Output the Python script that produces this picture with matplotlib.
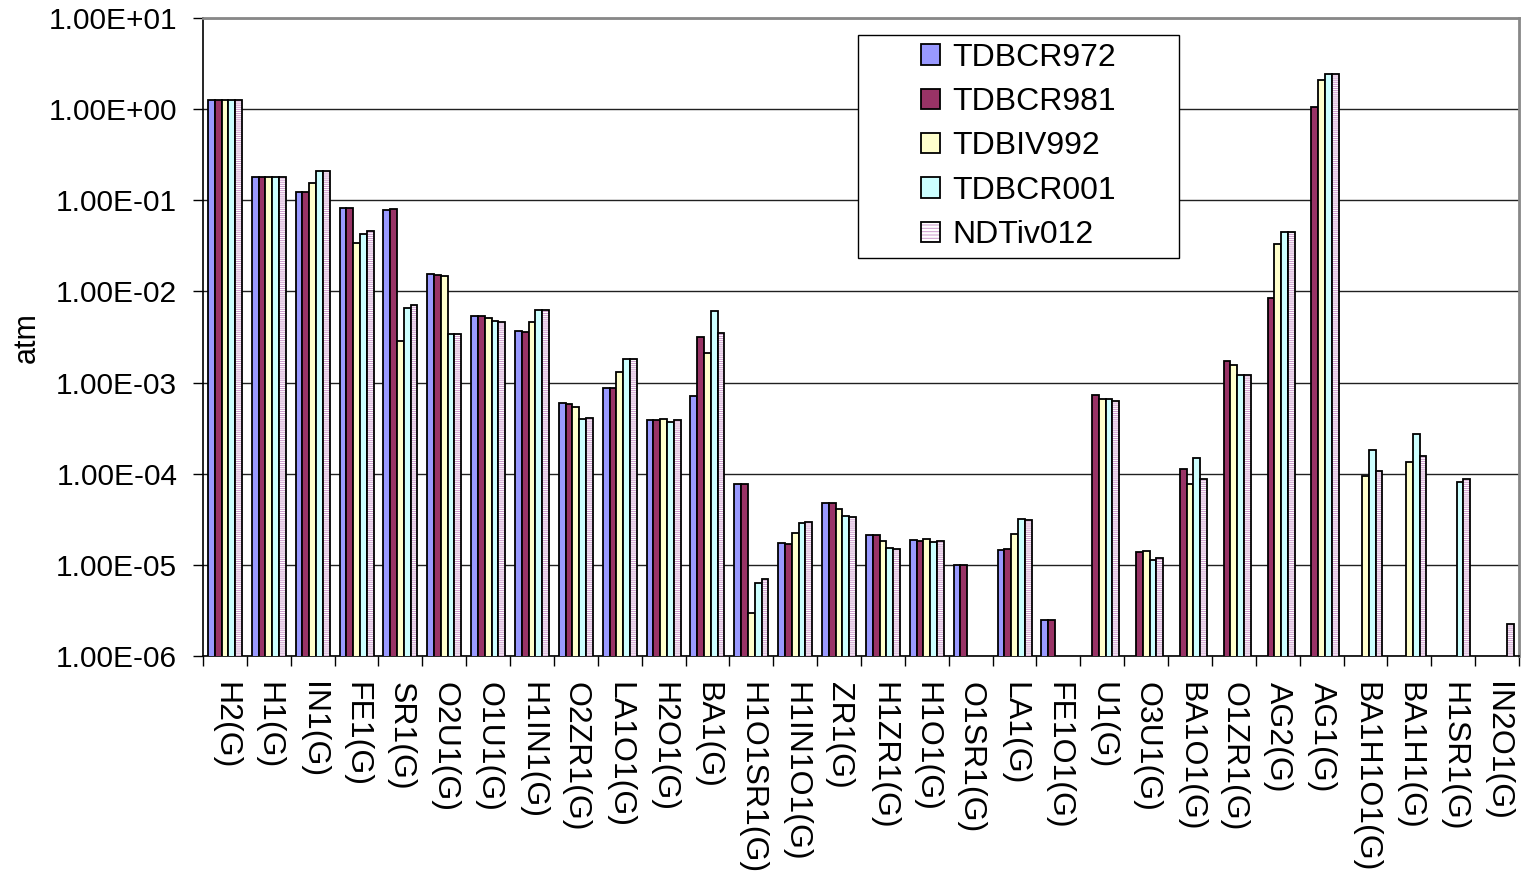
import numpy as np
import matplotlib
matplotlib.use("Agg")
import matplotlib.pyplot as plt
from matplotlib.patches import Patch, Rectangle
from matplotlib.ticker import FixedLocator, FuncFormatter, LogLocator, NullLocator

plt.rcParams["font.family"] = ["Liberation Sans", "DejaVu Sans"]
plt.rcParams["hatch.linewidth"] = 0.7

nan = np.nan

species = ["H2(G)", "H1(G)", "IN1(G)", "FE1(G)", "SR1(G)", "O2U1(G)", "O1U1(G)",
           "H1IN1(G)", "O2ZR1(G)", "LA1O1(G)", "H2O1(G)", "BA1(G)", "H1O1SR1(G)",
           "H1IN1O1(G)", "ZR1(G)", "H1ZR1(G)", "H1O1(G)", "O1SR1(G)", "LA1(G)",
           "FE1O1(G)", "U1(G)", "O3U1(G)", "BA1O1(G)", "O1ZR1(G)", "AG2(G)",
           "AG1(G)", "BA1H1O1(G)", "BA1H1(G)", "H1SR1(G)", "IN2O1(G)"]

databases = ["TDBCR972", "TDBCR981", "TDBIV992", "TDBCR001", "NDTiv012"]

# partial pressures (atm); nan = species not present in that database
tdbcr972 = [1.27, 0.178, 0.123, 0.082, 0.0773, 0.0154, 0.0054, 0.00367, 5.94e-4,
            8.75e-4, 3.93e-4, 7.2e-4, 7.67e-5, 1.74e-5, 4.74e-5, 2.13e-5, 1.86e-5,
            1.0e-5, 1.46e-5, 2.5e-6, nan, nan, nan, nan, nan, nan, nan, nan, nan, nan]
tdbcr981 = [1.27, 0.178, 0.123, 0.082, 0.0793, 0.0152, 0.0054, 0.00362, 5.83e-4,
            8.8e-4, 3.88e-4, 3.2e-3, 7.67e-5, 1.69e-5, 4.74e-5, 2.13e-5, 1.83e-5,
            1.0e-5, 1.5e-5, 2.5e-6, 7.33e-4, 1.4e-5, 1.12e-4, 1.74e-3, 8.43e-3,
            1.045, nan, nan, nan, nan]
tdbiv992 = [1.27, 0.178, 0.156, 0.0344, 0.00289, 0.0148, 0.0051, 0.0046, 5.46e-4,
            1.32e-3, 4.03e-4, 2.12e-3, 2.96e-6, 2.25e-5, 4.07e-5, 1.82e-5, 1.92e-5,
            nan, 2.17e-5, nan, 6.58e-4, 1.43e-5, 7.73e-5, 1.55e-3, 0.033, 2.08,
            9.5e-5, 1.35e-4, nan, nan]
tdbcr001 = [1.27, 0.178, 0.211, 0.0429, 0.00665, 0.0034, 0.00468, 0.00624, 4.0e-4,
            1.82e-3, 3.73e-4, 6.17e-3, 6.38e-6, 2.88e-5, 3.44e-5, 1.55e-5, 1.78e-5,
            nan, 3.17e-5, nan, 6.55e-4, 1.14e-5, 1.48e-4, 1.22e-3, 0.0448, 2.40,
            1.83e-4, 2.75e-4, 8.13e-5, nan]
ndtiv012 = [1.27, 0.178, 0.211, 0.0455, 0.00713, 0.0034, 0.00466, 0.00624, 4.07e-4,
            1.82e-3, 3.88e-4, 3.54e-3, 6.95e-6, 2.94e-5, 3.36e-5, 1.5e-5, 1.81e-5,
            nan, 3.08e-5, nan, 6.29e-4, 1.18e-5, 8.7e-5, 1.21e-3, 0.0449, 2.40,
            1.07e-4, 1.57e-4, 8.7e-5, 2.26e-6]

series = [tdbcr972, tdbcr981, tdbiv992, tdbcr001, ndtiv012]
fills = ["#9999FF", "#993366", "#FFFFCC", "#CCFFFF", "white"]
STRIPE = "#CC99CC"

W, H = 1525, 875
fig = plt.figure(figsize=(W / 100, H / 100), dpi=100)
ax = fig.add_axes([203 / W, 1 - 656 / H, 1316 / W, 638 / H])
ax.set_yscale("log")

x = np.arange(len(species))
w = 0.155
for j, (vals, fc) in enumerate(zip(series, fills)):
    xs = x + (j - 2) * w
    if j == 4:
        # striped fill: pink horizontal hatch under a plain black outline
        ax.bar(xs, vals, width=w, color="white", edgecolor=STRIPE,
               hatch="--------", linewidth=0, zorder=3)
        ax.bar(xs, vals, width=w, fill=False, edgecolor="black",
               linewidth=1.3, zorder=4)
    else:
        ax.bar(xs, vals, width=w, color=fc, edgecolor="black",
               linewidth=1.3, zorder=3)

ax.set_xlim(-0.5, len(species) - 0.5)
ax.set_ylim(1e-6, 1e1)

ax.yaxis.set_major_locator(LogLocator(base=10, numticks=20))
ax.yaxis.set_minor_locator(NullLocator())
ax.yaxis.set_major_formatter(FuncFormatter(lambda v, _: f"{v:.2E}"))
ax.grid(axis="y", color="#202020", linewidth=1.0, zorder=0)

ax.set_xticks(x)
ax.set_xticklabels(species, rotation=-90, va="top", ha="center")
ax.xaxis.set_minor_locator(FixedLocator(np.arange(len(species) + 1) - 0.5))
ax.tick_params(axis="x", which="major", length=0, pad=19, labelsize=23)
ax.tick_params(axis="x", which="minor", length=7.5, width=1, direction="out")
ax.tick_params(axis="y", which="major", length=7.5, width=1, direction="out",
               pad=11, labelsize=21.5)

for side in ("top", "right"):
    ax.spines[side].set_color("#888888")
    ax.spines[side].set_linewidth(2)
for side in ("left", "bottom"):
    ax.spines[side].set_color("black")
    ax.spines[side].set_linewidth(1.2)

fig.text(27 / W, 1 - 338 / H, "atm", rotation=90, ha="center",
         va="center", fontsize=22)

# legend box with wide side margins, drawn separately from the entries
box = Rectangle((858 / W, 1 - 258 / H), 321 / W, 223 / H, transform=fig.transFigure,
                facecolor="white", edgecolor="black", linewidth=1.0, zorder=5)
ax.add_artist(box)
box.set_clip_on(False)

handles = [Patch(facecolor=fc, edgecolor="black", linewidth=1.3) for fc in fills[:4]]
handles.append((Patch(facecolor="white", edgecolor=STRIPE, hatch="-----", linewidth=0),
                Patch(fill=False, edgecolor="black", linewidth=1.3)))
leg = ax.legend(handles, databases, loc="center",
                bbox_to_anchor=((858 + 1179) / 2 / W, 1 - (35 + 258) / 2 / H),
                bbox_transform=fig.transFigure, fontsize=23,
                handlelength=0.6, handleheight=0.6, handletextpad=0.4,
                labelspacing=0.45, borderpad=0, frameon=False)
leg.set_zorder(6)

fig.savefig("out.png", dpi=100)
